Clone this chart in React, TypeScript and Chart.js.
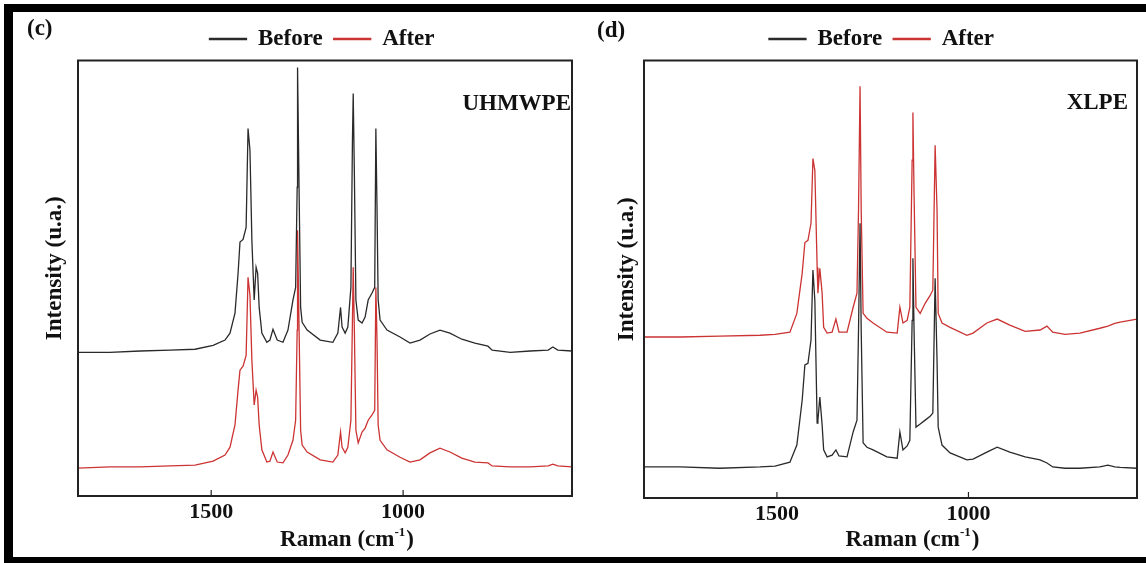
import React, { useEffect, useRef } from 'react';
import { Chart, registerables } from 'chart.js';

Chart.register(...registerables);

const FONT = "'Liberation Serif', 'Times New Roman', Times, serif";

// ---- axis / legend data ----
const xTicks = [1500, 1000];
const xMin = 560;
const xMax = 1847;
const seriesNames = ['Before', 'After'];
const seriesColors = ['#2a2a2a', '#cc3333'];
const xTitle = 'Raman (cm';
const xTitleSup = '-1';
const yTitle = 'Intensity (u.a.)';

// ---- panel (c): UHMWPE ----
const uhmwpeWavenumber = [
  1847, 1764, 1685, 1607, 1542, 1495, 1464, 1451, 1438, 1430, 1425, 1417, 1409, 1404, 1399, 1394,
  1388, 1383, 1379, 1375, 1368, 1355, 1347, 1339, 1328, 1313, 1300, 1287, 1280, 1276, 1275, 1271,
  1267, 1263, 1250, 1216, 1183, 1170, 1163, 1159, 1151, 1144, 1136, 1132, 1130, 1127, 1123, 1117,
  1107, 1099, 1091, 1081, 1074, 1071, 1068, 1065, 1060, 1042, 1008, 982, 956, 930, 904, 878, 847,
  813, 779, 768, 721, 669, 622, 610, 597, 560,
];
const uhmwpeBefore = [
  33.0, 33.0, 33.3, 33.5, 33.7, 34.6, 35.8, 37.4, 42.0, 51.1, 58.3, 58.9, 61.7, 84.4, 79.4, 58.7,
  45.0, 52.5, 51.1, 43.3, 37.4, 35.3, 35.8, 38.3, 35.8, 35.3, 38.1, 45.0, 47.9, 70.9, 98.4, 70.2,
  43.3, 39.9, 38.1, 35.8, 35.3, 37.4, 43.3, 38.8, 37.4, 38.8, 47.9, 81.7, 92.4, 74.1, 45.0, 40.4,
  39.7, 41.1, 45.0, 46.6, 47.9, 84.4, 66.3, 45.0, 40.4, 38.1, 36.5, 35.1, 35.8, 37.2, 38.1, 37.4,
  36.0, 35.1, 34.4, 33.5, 33.0, 33.3, 33.5, 34.2, 33.5, 33.3,
];
const uhmwpeAfter = [
  6.4, 6.7, 6.7, 6.9, 7.1, 8.0, 9.4, 11.2, 16.3, 24.3, 28.9, 29.8, 32.3, 50.2, 46.1, 31.2,
  20.9, 24.3, 22.7, 16.3, 10.6, 7.8, 8.0, 10.1, 7.8, 7.6, 9.4, 12.8, 17.4, 38.1, 61.0, 38.1,
  15.1, 11.7, 10.1, 8.3, 7.8, 9.4, 14.7, 11.2, 9.9, 11.2, 17.4, 40.4, 52.5, 38.1, 15.1, 12.2,
  14.7, 15.6, 17.4, 18.6, 19.7, 47.9, 35.8, 16.3, 12.8, 10.6, 8.9, 7.8, 8.3, 9.9, 11.0, 10.1,
  8.7, 7.8, 7.6, 6.9, 6.7, 6.7, 6.9, 7.3, 6.9, 6.7,
];

// ---- panel (d): XLPE ----
const xlpeWavenumber = [
  1847, 1753, 1649, 1544, 1505, 1466, 1448, 1434, 1427, 1419, 1411, 1406, 1401, 1395, 1393, 1388,
  1382, 1378, 1369, 1356, 1346, 1338, 1317, 1301, 1291, 1287, 1283, 1280, 1275, 1265, 1249, 1213,
  1186, 1179, 1171, 1160, 1153, 1147, 1145, 1142, 1137, 1126, 1113, 1100, 1093, 1087, 1082, 1079,
  1069, 1048, 1004, 988, 952, 925, 892, 852, 813, 795, 780, 748, 709, 657, 636, 618, 604, 560,
];
const xlpeBefore = [
  7.1, 7.1, 6.8, 7.1, 7.3, 8.2, 12.1, 22.4, 30.4, 30.8, 36.1, 52.1, 45.2, 17.1, 17.8, 23.1,
  16.7, 11.0, 9.4, 9.8, 11.0, 9.6, 9.4, 15.1, 17.8, 38.4, 62.8, 38.4, 12.6, 11.6, 11.0, 9.4,
  9.1, 15.1, 11.0, 11.9, 13.2, 40.6, 54.8, 38.4, 16.2, 16.9, 17.8, 18.7, 19.4, 50.2, 31.5, 16.2,
  12.1, 10.3, 8.7, 8.9, 10.5, 11.6, 10.5, 9.4, 8.7, 8.0, 7.1, 6.8, 6.8, 7.1, 7.5, 7.1, 7.0, 6.8,
];
const xlpeAfter = [
  36.8, 36.8, 37.0, 37.2, 37.4, 37.9, 42.2, 51.4, 58.4, 58.9, 62.8, 77.6, 74.9, 52.7, 46.8, 52.5,
  46.8, 39.0, 37.7, 37.9, 40.9, 37.9, 37.9, 43.6, 46.8, 65.8, 94.1, 65.8, 42.2, 41.1, 40.0, 37.9,
  37.7, 43.6, 40.0, 40.6, 43.6, 77.2, 88.1, 69.6, 43.6, 42.2, 44.5, 46.3, 47.5, 80.6, 65.8, 42.2,
  40.0, 39.0, 37.2, 37.7, 40.0, 40.9, 39.5, 38.1, 38.4, 39.3, 37.9, 37.4, 37.7, 38.8, 39.3, 39.9,
  40.2, 40.9,
];

const toPoints = (xs: number[], ys: number[]) => xs.map((x, i) => ({ x, y: ys[i] }));

type PanelSpec = {
  left: number;
  width: number;
  yAxisWidth: number;
  yTitleX: number;
  rightGap: number;
  xAxisHeight: number;
  letter: string;
  letterX: number;
  letterY: number;
  sample: string;
  sampleInset: number;
  sampleY: number;
  wavenumber: number[];
  before: number[];
  after: number[];
};

const panels: PanelSpec[] = [
  {
    left: 0, width: 644, yAxisWidth: 78, yTitleX: 55, rightGap: 72, xAxisHeight: 67,
    letter: '(c)', letterX: 27, letterY: 29, sample: 'UHMWPE', sampleInset: 1, sampleY: 104,
    wavenumber: uhmwpeWavenumber, before: uhmwpeBefore, after: uhmwpeAfter,
  },
  {
    left: 585, width: 593, yAxisWidth: 59, yTitleX: 42, rightGap: 41, xAxisHeight: 65,
    letter: '(d)', letterX: 12, letterY: 31, sample: 'XLPE', sampleInset: 9, sampleY: 103,
    wavenumber: xlpeWavenumber, before: xlpeBefore, after: xlpeAfter,
  },
];

function makeDecor(p: PanelSpec) {
  return {
    id: 'decor',
    afterDraw(chart: any) {
      const { ctx, chartArea: a } = chart;
      ctx.save();
      ctx.strokeStyle = '#222';
      ctx.lineWidth = 2;
      ctx.strokeRect(a.left, a.top, a.right - a.left, a.bottom - a.top);
      const xs = chart.scales.x;
      ctx.lineWidth = 1.2;
      for (const t of xTicks) {
        const px = xs.getPixelForValue(t);
        ctx.beginPath();
        ctx.moveTo(px, a.bottom);
        ctx.lineTo(px, a.bottom - 6);
        ctx.stroke();
      }
      ctx.fillStyle = '#111';
      ctx.textBaseline = 'middle';
      ctx.font = `bold 23px ${FONT}`;
      ctx.textAlign = 'left';
      ctx.fillText(p.letter, p.letterX, p.letterY);
      ctx.textAlign = 'right';
      ctx.fillText(p.sample, a.right - p.sampleInset, p.sampleY);
      // y-axis title
      ctx.save();
      ctx.translate(p.yTitleX, (a.top + a.bottom) / 2 - 10);
      ctx.rotate(-Math.PI / 2);
      ctx.textAlign = 'center';
      ctx.fillText(yTitle, 0, 0);
      ctx.restore();
      // x-axis title with superscript
      const close = ')';
      ctx.textAlign = 'left';
      ctx.font = `bold 23px ${FONT}`;
      const w1 = ctx.measureText(xTitle).width;
      const w3 = ctx.measureText(close).width;
      ctx.font = `bold 13px ${FONT}`;
      const w2 = ctx.measureText(xTitleSup).width + 1;
      const cx = (a.left + a.right) / 2 + 22;
      const ty = 540;
      const x0 = cx - (w1 + w2 + w3) / 2;
      ctx.font = `bold 23px ${FONT}`;
      ctx.fillText(xTitle, x0, ty);
      ctx.font = `bold 13px ${FONT}`;
      ctx.fillText(xTitleSup, x0 + w1, ty - 7);
      ctx.font = `bold 23px ${FONT}`;
      ctx.fillText(close, x0 + w1 + w2, ty);
      ctx.restore();
    },
  };
}

function Panel({ p }: { p: PanelSpec }) {
  const ref = useRef<HTMLCanvasElement | null>(null);
  useEffect(() => {
    if (!ref.current) return;
    const chart = new Chart(ref.current, {
      type: 'line',
      data: {
        datasets: [
          {
            label: seriesNames[0],
            data: toPoints(p.wavenumber, p.before),
            borderColor: seriesColors[0],
            backgroundColor: seriesColors[0],
            borderWidth: 1.3,
            pointRadius: 0,
            tension: 0,
            fill: false,
          },
          {
            label: seriesNames[1],
            data: toPoints(p.wavenumber, p.after),
            borderColor: seriesColors[1],
            backgroundColor: seriesColors[1],
            borderWidth: 1.3,
            pointRadius: 0,
            tension: 0,
            fill: false,
          },
        ],
      },
      options: {
        animation: false,
        responsive: false,
        devicePixelRatio: 1,
        layout: { padding: { top: 16.5, left: 0, right: 0, bottom: 0 } },
        plugins: {
          legend: {
            display: true,
            position: 'top',
            labels: {
              font: { family: FONT, size: 23, weight: 'bold' },
              color: '#111',
              boxWidth: 37,
              boxHeight: 1,
              padding: 11,
            },
          },
          tooltip: { enabled: false },
        },
        scales: {
          x: {
            type: 'linear',
            reverse: true,
            min: xMin,
            max: xMax,
            afterBuildTicks: (s: any) => {
              s.ticks = xTicks.map((v) => ({ value: v }));
            },
            afterFit: (s: any) => {
              s.height = p.xAxisHeight;
            },
            ticks: {
              font: { family: FONT, size: 22, weight: 'bold' },
              color: '#111',
              padding: -5,
              callback: (v: any) => String(v),
            },
            grid: { display: false },
            border: { display: false },
          },
          y: {
            min: 0,
            max: 100,
            afterFit: (s: any) => {
              s.width = p.yAxisWidth;
            },
            ticks: { display: false },
            grid: { display: false },
            border: { display: false },
          },
          y2: {
            position: 'right',
            afterFit: (s: any) => {
              s.width = p.rightGap;
            },
            ticks: { display: false },
            grid: { display: false },
            border: { display: false },
          },
        },
      } as any,
      plugins: [makeDecor(p)],
    });
    return () => chart.destroy();
  }, [p]);
  return (
    <canvas
      ref={ref}
      width={p.width}
      height={563}
      style={{ position: 'absolute', left: p.left, top: 0, width: p.width, height: 563 }}
    />
  );
}

export default function App() {
  return (
    <div
      style={{
        position: 'fixed',
        left: 0,
        top: 0,
        width: 1146,
        height: 563,
        background: '#fff',
        overflow: 'hidden',
      }}
    >
      {panels.map((p, i) => (
        <Panel key={i} p={p} />
      ))}
      <div style={{ position: 'absolute', left: 4, top: 4, width: 1142, height: 8, background: '#000' }} />
      <div style={{ position: 'absolute', left: 4, top: 4, width: 9, height: 559, background: '#000' }} />
      <div style={{ position: 'absolute', left: 4, top: 557, width: 1142, height: 6, background: '#000' }} />
    </div>
  );
}
